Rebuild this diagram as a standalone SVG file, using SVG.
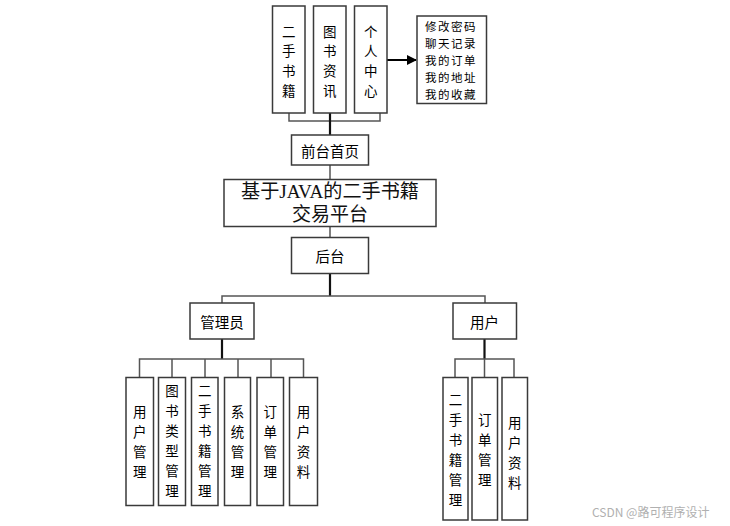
<svg xmlns="http://www.w3.org/2000/svg" width="730" height="526" viewBox="0 0 730 526">
<style>
.box{fill:#fff;stroke:#3a3a3a;stroke-width:1.5}
.t{font-family:"Noto Sans CJK SC","Liberation Sans",sans-serif;fill:#000;text-anchor:middle;dominant-baseline:central}
.v{font-size:13.5px}
.h{font-size:14.5px}
.thin{fill:none;stroke:#555;stroke-width:1.5}
.thick{fill:none;stroke:#111;stroke-width:2.2}
</style>
<defs>
<marker id="ah" markerWidth="10" markerHeight="10" refX="9" refY="5" orient="auto" markerUnits="userSpaceOnUse">
<path d="M0,0 L10,5 L0,10 Z" fill="#000"/>
</marker>
</defs>
<rect width="730" height="526" fill="#fff"/>
<g id="connectors">
<path class="thin" d="M289,113 V121 H380 V113"/>
<path class="thick" d="M330,113 V135"/>
<path class="thin" d="M330,165 V179"/>
<path class="thin" d="M330,227 V237"/>
<path class="thick" d="M330,273 V296"/>
<path class="thin" d="M222,303 V296 H485 V303"/>
<path class="thick" d="M222,339 V359"/>
<path class="thin" d="M139.5,377 V359 H303.5 V377 M172,359 V377 M205,359 V377 M238,359 V377 M271,359 V377"/>
<path class="thick" d="M484.5,339 V359"/>
<path class="thin" d="M455,377 V359 H514 V377 M484.5,359 V377"/>
<path d="M387,60 H416" stroke="#000" stroke-width="2" marker-end="url(#ah)"/>
</g>
<g id="n-ershou">
<rect class="box" x="272.5" y="6" width="32.5" height="107"/>
<text class="t v"><tspan x="288.7" y="30.5">二</tspan><tspan x="288.7" y="50.2">手</tspan><tspan x="288.7" y="69.8">书</tspan><tspan x="288.7" y="89.5">籍</tspan></text>
</g>
<g id="n-zixun">
<rect class="box" x="313.5" y="6" width="32.5" height="107"/>
<text class="t v"><tspan x="329.7" y="30.5">图</tspan><tspan x="329.7" y="50.2">书</tspan><tspan x="329.7" y="69.8">资</tspan><tspan x="329.7" y="89.5">讯</tspan></text>
</g>
<g id="n-geren">
<rect class="box" x="354.5" y="6" width="32.5" height="107"/>
<text class="t v"><tspan x="370.7" y="30.5">个</tspan><tspan x="370.7" y="50.2">人</tspan><tspan x="370.7" y="69.8">中</tspan><tspan x="370.7" y="89.5">心</tspan></text>
</g>
<g id="n-gerenlist">
<rect class="box" x="417" y="16" width="69.5" height="87.5"/>
<text class="t" style="font-size:11.5px;letter-spacing:1.5px;text-anchor:start"><tspan x="425" y="26">修改密码</tspan><tspan x="425" y="43">聊天记录</tspan><tspan x="425" y="60">我的订单</tspan><tspan x="425" y="77">我的地址</tspan><tspan x="425" y="94">我的收藏</tspan></text>
</g>
<g id="n-qiantai">
<rect class="box" x="291.5" y="135" width="77" height="30"/>
<text class="t h" x="330" y="150">前台首页</text>
</g>
<g id="n-title">
<rect class="box" x="224" y="179.5" width="212" height="47"/>
<text class="t" style="font-family:'Liberation Serif','Noto Sans CJK SC',serif;font-size:19px;fill:#111" x="330" y="191.5" textLength="178" lengthAdjust="spacingAndGlyphs">基于JAVA的二手书籍</text>
<text class="t" style="font-family:'Liberation Serif','Noto Sans CJK SC',serif;font-size:19px;fill:#111" x="330" y="214.5">交易平台</text>
</g>
<g id="n-houtai">
<rect class="box" x="291.5" y="237.5" width="77" height="36"/>
<text class="t h" x="330" y="255.5">后台</text>
</g>
<g id="n-admin">
<rect class="box" x="190" y="303" width="64" height="36"/>
<text class="t h" x="222" y="321">管理员</text>
</g>
<g id="n-user">
<rect class="box" x="453" y="303" width="63.5" height="36"/>
<text class="t h" x="484.5" y="321">用户</text>
</g>
<g id="n-a1">
<rect class="box" x="126" y="377.5" width="27.5" height="128"/>
<text class="t v"><tspan x="139.7" y="411">用</tspan><tspan x="139.7" y="431">户</tspan><tspan x="139.7" y="451">管</tspan><tspan x="139.7" y="471">理</tspan></text>
</g>
<g id="n-a2">
<rect class="box" x="158.5" y="377.5" width="27" height="128"/>
<text class="t v"><tspan x="172" y="390">图</tspan><tspan x="172" y="410">书</tspan><tspan x="172" y="430">类</tspan><tspan x="172" y="450">型</tspan><tspan x="172" y="470">管</tspan><tspan x="172" y="490">理</tspan></text>
</g>
<g id="n-a3">
<rect class="box" x="191.5" y="377.5" width="26.5" height="128"/>
<text class="t v"><tspan x="204.7" y="390">二</tspan><tspan x="204.7" y="410">手</tspan><tspan x="204.7" y="430">书</tspan><tspan x="204.7" y="450">籍</tspan><tspan x="204.7" y="470">管</tspan><tspan x="204.7" y="490">理</tspan></text>
</g>
<g id="n-a4">
<rect class="box" x="224.5" y="377.5" width="26" height="128"/>
<text class="t v"><tspan x="237.5" y="411">系</tspan><tspan x="237.5" y="431">统</tspan><tspan x="237.5" y="451">管</tspan><tspan x="237.5" y="471">理</tspan></text>
</g>
<g id="n-a5">
<rect class="box" x="257" y="377.5" width="26.5" height="128"/>
<text class="t v"><tspan x="270.2" y="411">订</tspan><tspan x="270.2" y="431">单</tspan><tspan x="270.2" y="451">管</tspan><tspan x="270.2" y="471">理</tspan></text>
</g>
<g id="n-a6">
<rect class="box" x="289.5" y="377.5" width="28" height="128"/>
<text class="t v"><tspan x="303.5" y="411">用</tspan><tspan x="303.5" y="431">户</tspan><tspan x="303.5" y="451">资</tspan><tspan x="303.5" y="471">料</tspan></text>
</g>
<g id="n-u1">
<rect class="box" x="443" y="377.5" width="25" height="142.5"/>
<text class="t v"><tspan x="455.5" y="399">二</tspan><tspan x="455.5" y="419">手</tspan><tspan x="455.5" y="439">书</tspan><tspan x="455.5" y="459">籍</tspan><tspan x="455.5" y="479">管</tspan><tspan x="455.5" y="499">理</tspan></text>
</g>
<g id="n-u2">
<rect class="box" x="472" y="377.5" width="25.5" height="142.5"/>
<text class="t v"><tspan x="484.7" y="419">订</tspan><tspan x="484.7" y="439">单</tspan><tspan x="484.7" y="459">管</tspan><tspan x="484.7" y="479">理</tspan></text>
</g>
<g id="n-u3">
<rect class="box" x="502" y="377.5" width="25.5" height="142.5"/>
<text class="t v"><tspan x="514.7" y="422">用</tspan><tspan x="514.7" y="442">户</tspan><tspan x="514.7" y="462">资</tspan><tspan x="514.7" y="482">料</tspan></text>
</g>
<text x="592" y="517" style="font-family:'Noto Sans CJK SC','Liberation Sans',sans-serif;font-size:12px;fill:#b0b0b0">CSDN @路可程序设计</text>
</svg>
